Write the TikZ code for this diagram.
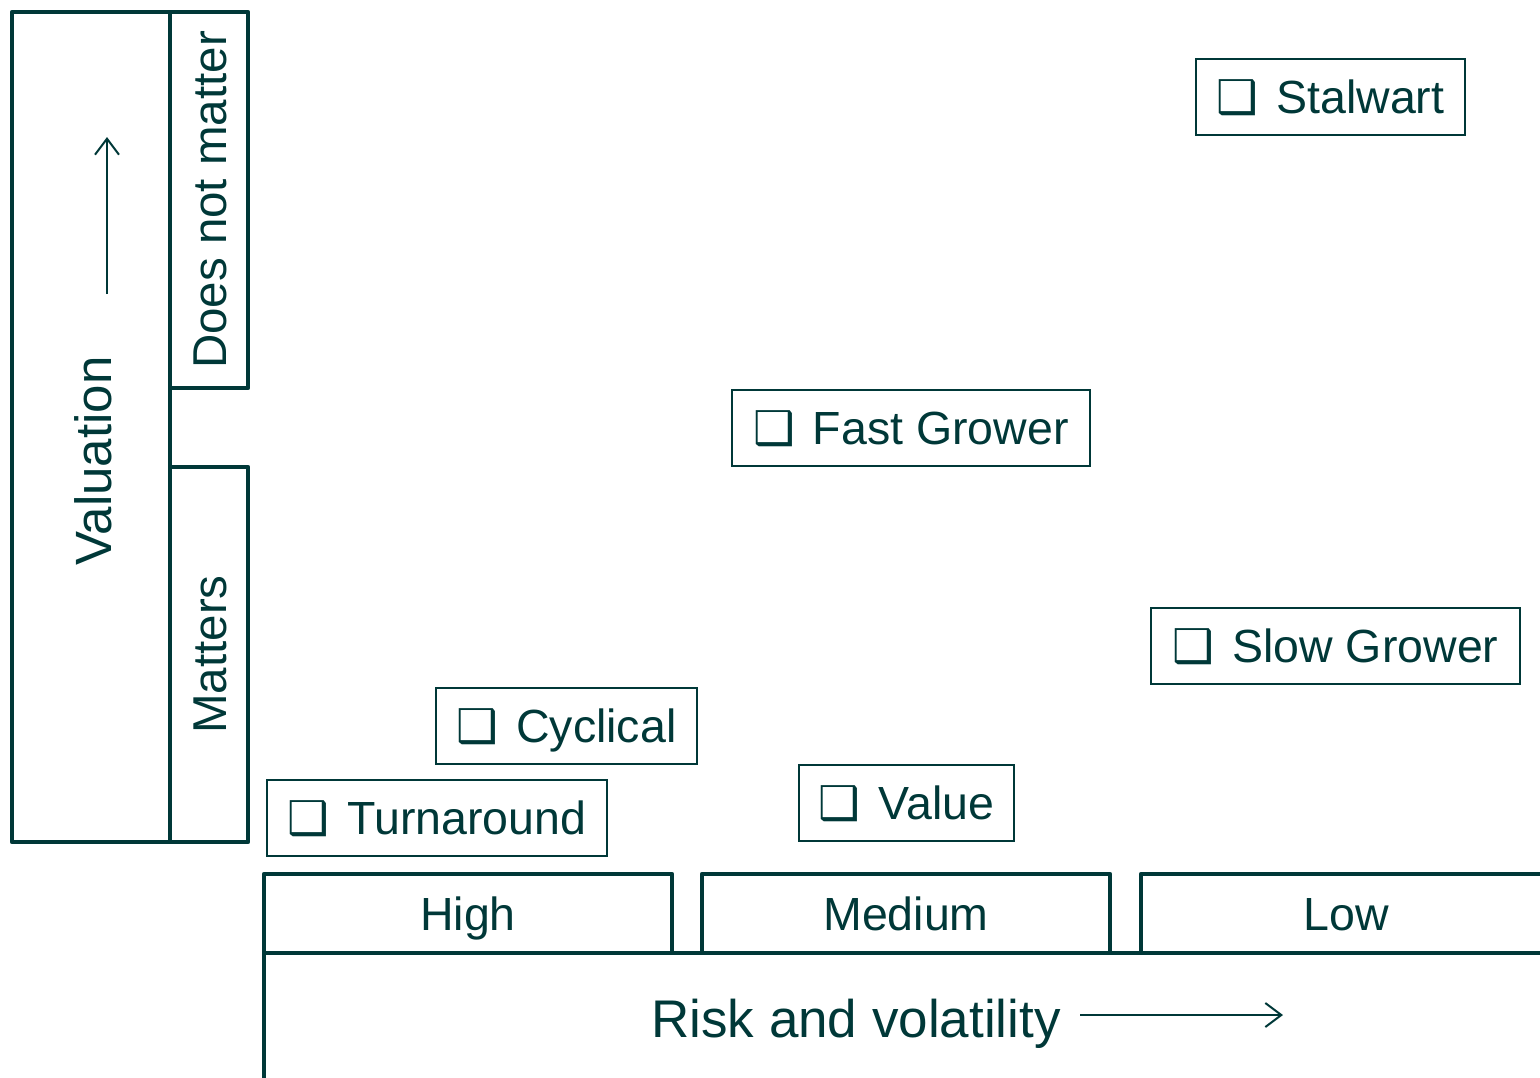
\documentclass[tikz,border=0pt]{standalone}
\usepackage{fontspec}
\setmainfont{Liberation Sans}
\newfontfamily\symfont{DejaVu Sans Bold}
\usetikzlibrary{arrows.meta}
\definecolor{teal0}{RGB}{0,56,56}
\tikzset{
  capc/.style={text height=#1, text depth=0pt},
  frame/.style={draw=teal0, line width=4.5pt, line join=round, text=teal0},
  catbox/.style={draw=teal0, line width=2pt, text=teal0, font=\fontsize{46.5}{50}\selectfont, inner sep=0pt, minimum height=76pt, capc=33.3pt},
  biglbl/.style={text=teal0, font=\fontsize{53}{55}\selectfont, inner sep=0pt, capc=38pt},
  axarrow/.style={draw=teal0, line width=2pt, -{Straight Barb[length=16pt, width=24pt, line width=2pt]}}
}
\newcommand{\cbx}{{\symfont\char"2751}\hspace{18pt}}
\begin{document}
\begin{tikzpicture}[x=1pt,y=-1pt]
\useasboundingbox (0,0) rectangle (1540,1077);
\clip (0,0) rectangle (1540,1077);
% left axis
\node[frame, minimum width=158pt, minimum height=830pt] (val) at (91,427) {};
\node[biglbl, rotate=90, font=\fontsize{51}{55}\selectfont, capc=36.5pt] (valtxt) at (93,461) {Valuation};
\coordinate (va0) at (107,294);
\coordinate (va1) at (107,137);
\draw[axarrow] (va0) -- (va1);
\node[frame, rotate=90, minimum width=376pt, minimum height=78pt, font=\fontsize{47.5}{50}\selectfont, capc=34pt] (dnm) at (209,200) {Does not matter};
\node[frame, rotate=90, minimum width=375pt, minimum height=78pt, font=\fontsize{47.5}{50}\selectfont, capc=34pt] (mat) at (209,654.5) {Matters};
% bottom axis
\node[frame, minimum width=1296pt, minimum height=127pt] (risk) at (912,1016.5) {};
\node[biglbl] (risktxt) at (856,1018) {Risk and volatility};
\coordinate (ra0) at (1080,1015);
\coordinate (ra1) at (1283,1015);
\draw[axarrow] (ra0) -- (ra1);
\node[frame, fill=white, minimum width=408pt, minimum height=79pt, font=\fontsize{46.5}{50}\selectfont, capc=33.3pt] (high) at (468,913.5) {High};
\node[frame, fill=white, minimum width=408pt, minimum height=79pt, font=\fontsize{46.5}{50}\selectfont, capc=33.3pt] (med) at (906,913.5) {Medium};
\node[frame, fill=white, minimum width=410pt, minimum height=79pt, font=\fontsize{46.5}{50}\selectfont, capc=33.3pt] (low) at (1346,913.5) {Low};
% categories
\node[catbox, minimum width=269pt] (stal) at (1330.5,97) {\cbx Stalwart};
\node[catbox, minimum width=358pt] (fast) at (911,428) {\cbx Fast Grower};
\node[catbox, minimum width=369pt] (slow) at (1335.5,645.5) {\cbx Slow Grower};
\node[catbox, minimum width=261pt] (cyc) at (566.5,726) {\cbx Cyclical};
\node[catbox, minimum width=340pt] (turn) at (437,818) {\cbx Turnaround};
\node[catbox, minimum width=215pt] (value) at (906.5,802.5) {\cbx Value};
\end{tikzpicture}
\end{document}
